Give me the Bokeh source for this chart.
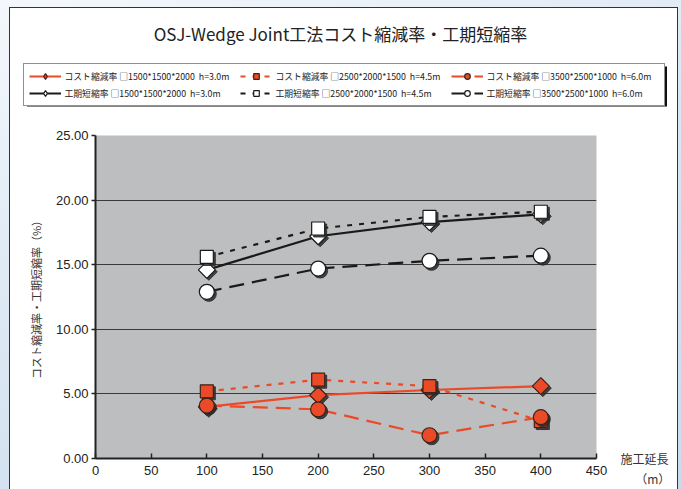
import numpy as np
from bokeh.plotting import figure
from bokeh.layouts import column
from bokeh.models import (Legend, LegendItem, Label, Range1d, LinearAxis,
                          FixedTicker, NumeralTickFormatter)
from bokeh.embed import file_html
from bokeh.resources import INLINE

# ---------------- data ----------------
x_len = [100, 200, 300, 400]
cost_1500 = [4.0, 4.9, 5.3, 5.6]
cost_2500 = [5.2, 6.1, 5.6, 2.9]
cost_3500 = [4.1, 3.8, 1.8, 3.2]
period_1500 = [14.6, 17.2, 18.3, 18.9]
period_2500 = [15.6, 17.8, 18.7, 19.1]
period_3500 = [12.9, 14.7, 15.3, 15.7]
x_ticks = [0, 50, 100, 150, 200, 250, 300, 350, 400, 450]
y_ticks = [0, 5, 10, 15, 20, 25]
grid_ticks = [5, 10, 15, 20]

title_text = "OSJ-Wedge Joint工法コスト縮減率・工期短縮率"
y_label = "コスト縮減率・工期短縮率（%）"
x_label = "\n施工延長\n\u3000 （m）"
legend_labels = [
    "コスト縮減率 □1500*1500*2000  h=3.0m",
    "工期短縮率 □1500*1500*2000  h=3.0m",
    "コスト縮減率 □2500*2000*1500  h=4.5m",
    "工期短縮率 □2500*2000*1500  h=4.5m",
    "コスト縮減率 □3500*2500*1000  h=6.0m",
    "工期短縮率 □3500*2500*1000  h=6.0m",
]

# ---------------- layout constants ----------------
W = 667                 # inner white box width (page x 10..677)
TOP_H = 117             # header figure (title + legend), page y 8..125
MAIN_H = 364            # chart figure, page y 125..489
FL, FR, FT, FB = 85, 586, 10, 333    # frame edges in chart-figure pixels
JP = "Noto Sans CJK JP"
NUM = "Liberation Sans"
ORANGE = "#EA4A28"
GRAY = "#BDBEC0"
DARK = "#1a1a1a"

# legend geometry
GLYPH_W, STANDOFF, LABEL_W, SPACING, PADDING = 32, 4, 172, 3, 5
LEG_W = 3 * (GLYPH_W + STANDOFF + LABEL_W) + 2 * SPACING + 2 * PADDING
LEG_TOP, LEG_H = 55, 40

# (values, line colour, dash, marker, size, angle, fill, outline, legend marker)
series = [
    (cost_1500, ORANGE, "solid", "square", 12, np.pi / 4, ORANGE, "#3a2418", "diamond"),
    (period_1500, DARK, "solid", "square", 12, np.pi / 4, "white", DARK, "diamond"),
    (cost_2500, ORANGE, "5 7", "square", 13, 0, ORANGE, "#3a2418", "square"),
    (period_2500, DARK, "5 7", "square", 13, 0, "white", DARK, "square"),
    (cost_3500, ORANGE, "15 8", "circle", 15, 0, ORANGE, "#3a2418", "circle"),
    (period_3500, DARK, "15 8", "circle", 15, 0, "white", DARK, "circle"),
]

# ---------------- chart figure ----------------
p = figure(width=W, height=MAIN_H, output_backend="svg", toolbar_location=None,
           x_range=Range1d(0, 450), y_range=Range1d(0, 25),
           min_border_left=FL, min_border_right=W - FR,
           min_border_top=FT, min_border_bottom=MAIN_H - FB)
p.background_fill_color = GRAY
p.border_fill_color = "white"
p.outline_line_color = None

p.xaxis.ticker = FixedTicker(ticks=x_ticks)
p.yaxis.ticker = FixedTicker(ticks=y_ticks)
p.yaxis.formatter = NumeralTickFormatter(format="0.00")
for ax in (p.xaxis[0], p.yaxis[0]):
    ax.axis_line_width = 2
    ax.axis_line_color = "#222222"
    ax.major_tick_line_color = "#222222"
    ax.major_tick_line_width = 1.5
    ax.minor_tick_line_color = None
    ax.major_label_text_font = NUM
    ax.major_label_text_font_size = "13px"
    ax.major_label_text_color = "#222222"
p.xaxis.major_tick_in = 5
p.xaxis.major_tick_out = 0
p.xaxis.major_label_standoff = 7
p.yaxis.major_tick_in = 0
p.yaxis.major_tick_out = 4
p.yaxis.major_label_standoff = 3
p.yaxis.axis_label = y_label
p.yaxis.axis_label_text_font = JP
p.yaxis.axis_label_text_font_size = "11px"
p.yaxis.axis_label_text_font_style = "normal"
p.yaxis.axis_label_text_color = "#333333"
p.yaxis.axis_label_standoff = 9

# right-hand axis used only to carry the x-axis title at the lower right
xl_axis = LinearAxis(ticker=FixedTicker(ticks=[0]),
                     major_label_overrides={0: x_label},
                     axis_line_color=None, major_tick_line_color=None,
                     minor_tick_line_color=None, major_tick_out=0, major_tick_in=0,
                     major_label_standoff=24,
                     major_label_text_font=JP, major_label_text_font_size="12px",
                     major_label_text_color="#333333")
p.add_layout(xl_axis, "right")

p.xgrid.visible = False
p.ygrid.ticker = FixedTicker(ticks=grid_ticks)
p.ygrid.grid_line_color = "#3a3a3a"
p.ygrid.grid_line_width = 1.2

dx = 2 * 450 / (FR - FL)
dy = 2 * 25 / (FB - FT)
for (ys, lc, dash, mk, sz, ang, fc, oc, lmk) in series:
    p.line(x_len, ys, line_color=lc, line_width=2.2, line_dash=dash)
    p.scatter([x + dx for x in x_len], [y - dy for y in ys], marker=mk, size=sz,
              angle=ang, fill_color="#2a2a2a", line_color="#2a2a2a", fill_alpha=0.85,
              line_alpha=0.85)
    p.scatter(x_len, ys, marker=mk, size=sz, angle=ang, fill_color=fc,
              line_color=oc, line_width=1.2)

# ---------------- header figure (title + legend) ----------------
h = figure(width=W, height=TOP_H, output_backend="svg", toolbar_location=None,
           x_range=Range1d(0, W), y_range=Range1d(TOP_H, 0),
           x_axis_type=None, y_axis_type=None, min_border=0,
           min_border_left=0, min_border_right=0, min_border_top=0, min_border_bottom=0)
h.background_fill_color = "white"
h.border_fill_color = "white"
h.outline_line_color = None
h.grid.visible = False

# drop shadow of the legend box (3px right/down)
leg_left = (W - LEG_W) / 2
h.quad(left=[leg_left + 3], right=[leg_left + LEG_W + 3],
       top=[LEG_TOP + 3], bottom=[LEG_TOP + LEG_H + 3],
       fill_color="#111111", line_color=None)

items = []
for (ys, lc, dash, mk, sz, ang, fc, oc, lmk), lab in zip(series, legend_labels):
    ln = h.line([np.nan], [np.nan], line_color=lc, line_width=2.2, line_dash=dash)
    mr = h.scatter([np.nan], [np.nan], marker=lmk, size=sz - 2 if lmk == "diamond" else sz - 4,
                   fill_color=fc, line_color=oc, line_width=1.2)
    items.append(LegendItem(label=lab, renderers=[ln, mr]))

legend = Legend(items=items, orientation="vertical", nrows=2,
                location="top_center", margin=LEG_TOP,
                border_line_color="#222222", border_line_width=1.5,
                background_fill_color="white", background_fill_alpha=1,
                label_text_font=JP, label_text_font_size="8.8px",
                label_text_color="#222222",
                glyph_width=GLYPH_W, glyph_height=14, label_standoff=STANDOFF,
                label_width=LABEL_W, label_height=14, spacing=SPACING,
                padding=PADDING)
h.add_layout(legend, "center")
h.add_layout(Label(x=330, y=25, text=title_text, text_font=JP, text_font_size="17px",
                   text_color="#222222", text_align="center", text_baseline="middle"))

# each figure in its own container so their frames are not aligned to each other
top_box = column(h, spacing=0)
main_box = column(p, spacing=0)
inner = column(top_box, main_box, spacing=0, margin=(8, 4, 0, 10),
               styles={"outline": "1.5px solid #333333", "background": "white"})
page = column(inner, styles={"background": "linear-gradient(160deg, #f4f8fc 0%, #dbe7f3 45%, #c9dcee 100%)"})

open("out.html", "w").write(file_html(page, INLINE))
